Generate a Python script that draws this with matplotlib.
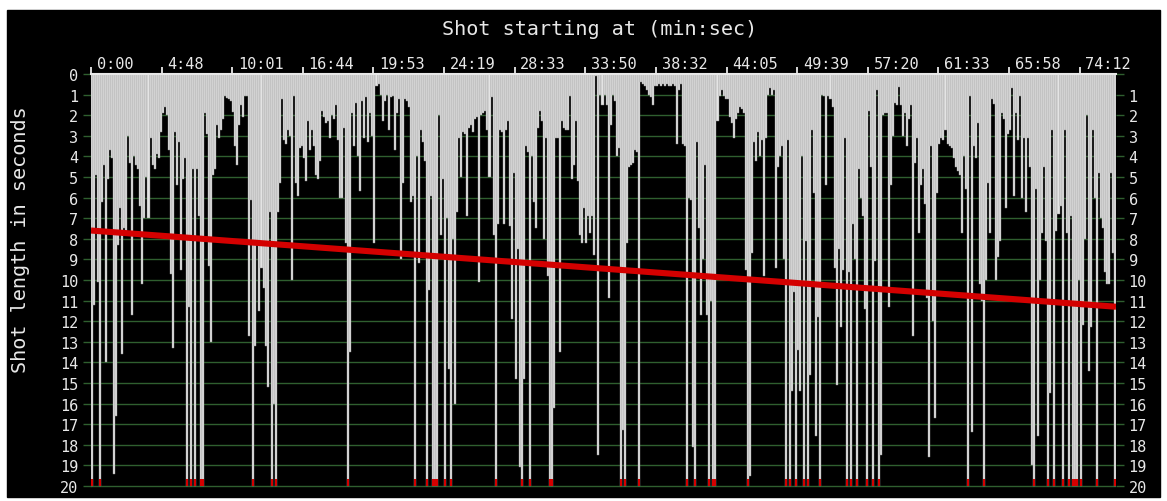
import numpy as np
import matplotlib
matplotlib.use("Agg")
import matplotlib.pyplot as plt
import matplotlib.transforms as mtransforms
from matplotlib.patches import Rectangle

# shot lengths in seconds, one per shot (>= 20 is clipped)
seg_a = [20, 11.2, 4.9, 10.1, 20, 6.2, 4.4, 14.0, 5.1, 3.7,
         4.1, 19.4, 16.6, 8.3, 6.5, 13.6, 7.5, 7.8, 3.0, 4.3,
         11.7, 4.0, 4.4, 4.6, 6.4, 10.2, 7.0, 5.0, 7.0, 3.1,
         4.4, 4.6, 3.9, 4.1, 2.8, 1.9, 1.6, 2.0, 3.7, 9.7,
         13.3, 2.8, 5.4, 3.3, 9.5, 5.1, 4.1, 20, 11.3, 20,
         4.6, 20, 4.6, 6.9, 20, 20, 1.9, 2.9, 9.3, 13.0,
         4.9, 4.6, 2.5, 3.1, 2.7, 2.2, 1.05, 1.15, 1.2, 1.3,
         1.85, 3.5, 4.4, 2.5, 1.5, 2.1, 1.05, 1.05, 12.7, 6.1,
         20, 13.2, 8.3, 11.5, 9.4, 10.4, 13.2, 15.2, 6.7, 20,
         16.0, 20, 6.7, 5.3, 1.2, 3.2, 3.4, 2.7, 3.0, 10.0]
seg_b = [1.05, 5.3, 5.9, 3.6, 3.5, 4.1, 5.2, 2.3, 3.7, 2.7,
         3.5, 4.9, 5.1, 4.2, 1.8, 2.1, 2.4, 2.3, 3.1, 2.0,
         2.2, 1.5, 3.2, 6.0, 6.0, 2.6, 8.2, 20, 13.5, 1.9,
         3.5, 1.4, 4.0, 5.7, 1.3, 3.1, 1.1, 3.3, 1.9, 3.0,
         8.2, 0.6, 0.5, 1.0, 2.3, 1.3, 1.0, 2.7, 1.1, 1.05,
         3.7, 1.9, 1.2, 9.0, 5.3, 1.2, 1.3, 1.6, 6.2, 5.9,
         20, 4.0, 9.2, 2.7, 3.3, 4.2, 20, 10.5, 5.9, 20,
         20, 20, 2.0, 7.8, 5.1, 20, 7.0, 14.3, 20, 8.0,
         16.0, 6.7, 3.1, 5.0, 2.8, 2.9, 6.9, 2.6, 2.5, 2.8,
         2.2, 2.1, 10.1, 2.0, 1.9, 1.8, 2.7, 5.0, 1.1, 7.8,
         20, 7.3]
seg_c = [2.7, 2.8, 7.3, 2.7, 2.3, 7.4, 11.9, 4.8, 14.8, 8.5,
         19.1, 20, 14.8, 3.5, 3.8, 20, 4.0, 6.2, 7.5, 2.6,
         1.8, 2.3, 8.0, 3.1, 9.8, 20, 20, 16.2, 3.1, 3.1,
         13.5, 2.3, 2.6, 2.7, 2.7, 1.05, 5.1, 4.4, 2.3, 5.2,
         7.8, 8.2, 6.5, 8.2, 6.9, 7.7, 6.9, 8.8, 0.1, 18.5,
         1.0, 1.5, 1.0, 1.5, 10.9, 2.5, 1.0, 1.3, 4.0, 3.6,
         20, 17.3, 20, 8.2, 4.5, 4.4, 4.3, 3.7, 3.8, 20,
         0.4, 0.5, 0.6, 0.8, 1.0, 1.1, 1.5, 0.6, 0.6, 0.5,
         0.6, 0.5, 0.6, 0.5, 0.6, 0.6, 0.5, 0.6, 3.4, 0.8,
         0.5, 3.4, 3.5, 20, 6.0, 6.1, 18.1, 20, 3.3, 7.5,
         11.7, 9.0]
seg_d = [4.4, 11.7, 20, 11.0, 20, 20, 2.3, 1.05, 0.8, 1.05,
         1.2, 1.2, 2.1, 2.4, 3.1, 2.2, 1.9, 1.6, 1.7, 1.9,
         9.5, 20, 19.5, 8.7, 3.3, 4.2, 2.8, 4.0, 3.2, 9.8,
         3.1, 1.0, 0.7, 1.0, 0.8, 9.4, 4.5, 4.0, 3.5, 9.0,
         20, 3.2, 20, 15.4, 10.6, 20, 13.4, 15.4, 4.0, 20,
         8.1, 20, 14.6, 2.7, 5.8, 17.6, 11.8, 20, 1.0, 1.05,
         5.4, 1.05, 1.2, 1.6, 9.4, 15.1, 8.5, 12.3, 9.5, 3.1,
         20, 9.6, 20, 7.3, 9.0, 20, 4.6, 6.0, 6.9, 11.4,
         20, 1.8, 4.5, 20, 9.1, 0.8, 20, 18.5, 2.0, 1.9,
         1.9, 11.3, 5.4, 3.0, 1.4, 1.5, 0.65, 1.5, 3.0, 1.9,
         3.5, 2.2]
seg_e = [1.5, 12.7, 4.3, 3.1, 7.7, 5.4, 4.6, 6.3, 10.9, 18.6,
         3.5, 12.0, 16.7, 5.8, 3.4, 3.1, 3.2, 2.7, 3.4, 3.5,
         3.6, 4.1, 4.5, 4.7, 4.9, 7.7, 4.0, 5.6, 20, 1.05,
         17.4, 3.5, 4.1, 2.4, 10.2, 11.0, 20, 10.0, 5.3, 7.7,
         1.2, 1.45, 10.0, 8.9, 8.1, 1.9, 2.2, 6.5, 2.9, 2.7,
         0.7, 5.9, 1.9, 3.2, 1.05, 6.0, 3.1, 6.7, 3.1, 4.5,
         19.0, 20, 5.6, 17.6, 10.0, 7.7, 4.5, 8.1, 20, 15.5,
         2.7, 20, 7.6, 6.8, 6.4, 20, 2.7, 7.7, 20, 6.9,
         20, 20, 20, 10.0, 20, 12.2, 8.0, 2.0, 14.4, 12.3,
         2.7, 6.0, 20, 4.8, 7.0, 7.5, 9.6, 10.2, 10.2, 4.8,
         8.7, 20]
shot_lengths = seg_a + seg_b + seg_c + seg_d + seg_e

tick_every = 35  # a label every 35 shots
tick_labels = ["0:00", "4:48", "10:01", "16:44", "19:53", "24:19", "28:33",
               "33:50", "38:32", "44:05", "49:39", "57:20", "61:33", "65:58",
               "74:12"]
trend_start, trend_end = 7.6, 11.3
y_max = 20

W, H = 1167, 502
TXT = "#e8e8e8"
GRID = "#2f5f2f"
RED = "#d40000"

plt.rcParams["font.family"] = ["DejaVu Sans Mono"]

fig = plt.figure(figsize=(W / 100, H / 100), dpi=100)
fig.patch.set_facecolor("white")
fig.add_artist(Rectangle((7 / W, 1 - 498 / H), (1160 - 7) / W, (498 - 11) / H,
                         transform=fig.transFigure, color="black", zorder=0))

ax = fig.add_axes([91 / W, 1 - 490 / H, (1116 - 91) / W, (490 - 75) / H])
ax.set_facecolor("black")

vals = np.array(shot_lengths, dtype=float)
n = len(vals)
x = np.arange(n)
ax.bar(x, np.minimum(vals, y_max), width=1.0, align="edge",
       color="#e4e4e4", edgecolor="#8e8e8e", linewidth=0.3, zorder=2)
over = vals >= y_max
ax.bar(x[over], np.full(over.sum(), 0.32), bottom=y_max - 0.32, width=1.0,
       align="edge", color=RED, linewidth=0, zorder=3)
ax.plot([0, n], [trend_start, trend_end], color=RED, lw=4.4, zorder=4,
        solid_capstyle="butt")

ax.set_xlim(0, n)
ax.set_ylim(y_max + 0.15, 0)

ax.set_yticks(range(y_max + 1))
ax.grid(axis="y", color=GRID, lw=1.0)
ax.set_axisbelow(True)
ax.tick_params(axis="y", left=True, right=True, labelleft=True, labelright=True,
               length=6, width=1, color=GRID, labelcolor=TXT, labelsize=11, pad=3)
ax.yaxis.get_major_ticks()[0].label2.set_visible(False)

ax.xaxis.tick_top()
ax.set_xticks(np.arange(len(tick_labels)) * tick_every)
ax.set_xticklabels(tick_labels)
ax.tick_params(axis="x", top=True, bottom=False, length=5, width=1.3,
               color=TXT, labelcolor=TXT, labelsize=11, pad=-3)
shift = mtransforms.ScaledTranslation(4 / 72, 0, fig.dpi_scale_trans)
for lbl in ax.get_xticklabels():
    lbl.set_ha("left")
    lbl.set_transform(lbl.get_transform() + shift)

for side in ["left", "right", "bottom"]:
    ax.spines[side].set_visible(False)
ax.spines["top"].set_color(TXT)
ax.spines["top"].set_linewidth(1.5)

fig.text(600 / W, 1 - 30 / H, "Shot starting at (min:sec)", ha="center",
         va="center", color=TXT, fontsize=14.5)
fig.text(21 / W, 1 - 240 / H, "Shot length in seconds", ha="center",
         va="center", rotation=90, color=TXT, fontsize=14.5)

fig.savefig("out.png", dpi=100, facecolor=fig.get_facecolor())
